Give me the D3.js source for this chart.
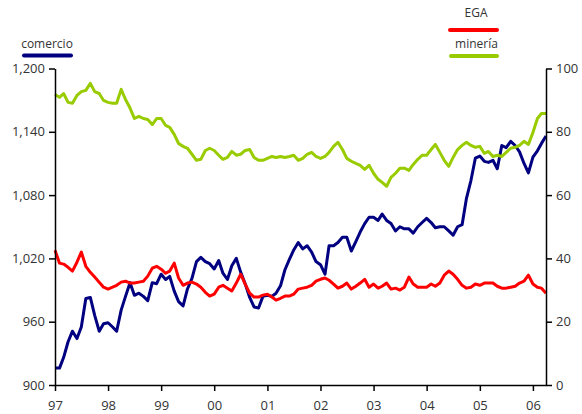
<!DOCTYPE html>
<html><head><meta charset="utf-8">
<script src="https://cdn.jsdelivr.net/npm/d3@7"></script>
<style>html,body{margin:0;padding:0;background:#fff;}svg{display:block;}</style>
</head><body><svg id="c" width="582" height="414"></svg>
<script>
const startMonth = "1997-01";
const yearLabels = ["97","98","99","00","01","02","03","04","05","06"];
const leftTicks = [900, 960, 1020, 1080, 1140, 1200];
const rightTicks = [0, 20, 40, 60, 80, 100];
const comercio = [916,916,926,941,951,944,955,982,983,966,951,958,959,955,951,971,984,997,985,987,984,980,997,996,
1005,1000,1003,989,979,975,991,1001,1017,1021,1017,1015,1010,1018,1006,1000,1013,1020,1007,996,983,974,973,984,
985,984,987,994,1009,1019,1028,1035,1029,1032,1026,1017,1014,1005,1032,1032,1035,1040,1040,1027,1036,1045,1053,1059,
1059,1056,1062,1056,1053,1046,1050,1048,1048,1044,1050,1054,1058,1054,1049,1050,1050,1046,1042,1050,1052,1077,1094,1115,
1117,1112,1111,1113,1105,1127,1125,1131,1127,1121,1110,1101,1116,1122,1129,1136];
const ega = [42.6,38.5,38.2,37.2,36,38.8,42,37.5,35.6,34.1,32.5,30.9,30.3,30.9,31.5,32.5,32.8,32.2,32.2,32.5,32.8,34.4,36.9,37.5,
36.6,35.3,36,38.5,33.8,31.5,32.2,32.5,31.9,30.9,29.3,28.1,28.7,30.9,31.5,30.6,29.7,32.2,35,31.9,29,27.8,27.8,28.4,
28.7,27.8,26.8,27.4,28.1,28.1,28.7,30.3,30.6,30.9,31.5,32.8,33.4,33.8,33.1,31.9,30.6,31.2,32.2,30.3,31.2,32.2,33.4,30.9,
31.9,30.6,31.2,32.2,30.3,30.6,30,30.9,34.1,31.9,30.9,30.9,30.9,31.9,31.2,32.2,34.7,36,35,33.4,31.5,30.6,30.9,31.9,
31.5,32.2,32.2,32.2,31.2,30.6,30.6,30.9,31.2,32.2,32.8,34.7,31.9,30.9,30.6,29];
const mineria = [91.8,90.9,92.1,89.3,89,91.5,92.7,93.1,95.3,92.7,92.1,89.9,89.3,89,89,93.4,90.2,87.5,84.2,84.9,84.2,83.9,82.3,84.2,
84.2,82,81.4,79.2,76.3,75.4,74.8,72.9,71,71.3,74.1,74.8,74.1,72.6,71.3,71.9,73.8,72.6,72.9,74.1,74.4,71.9,71,71,
71.6,72.2,71.9,72.2,71.9,72.2,72.6,71,71.6,72.9,73.5,72.2,71.6,72.2,73.5,75.4,76.7,74.4,71.6,70.7,70,69.4,68.1,69.4,
66.9,65,64,62.8,65.6,66.9,68.5,68.5,67.8,69.7,71.3,72.6,72.6,74.4,76,73.5,71,69.1,71.9,74.4,75.7,76.7,75.7,75.1,
75.4,73.2,73.8,72.2,72.6,72.2,73.5,74.8,75.1,75.7,77,76,79.8,84.2,85.8,85.8];
const seriesNames = ["comercio","EGA","minería"];
const seriesColors = ["#000080","#ff0000","#99cc00"];

const svg = d3.select("#c");
const start = d3.timeParse("%Y-%m")(startMonth);
const months = comercio.map((_, i) => d3.timeMonth.offset(start, i));
const L = 55, R = 546, T = 68.5, B = 385;
const x = d3.scaleTime().domain([months[0], months[months.length-1]]).range([L, R]);
const yL = d3.scaleLinear().domain([900, 1200]).range([B, T]);
const yR = d3.scaleLinear().domain([0, 100]).range([B, T]);

const font = "'Open Sans', 'Noto Sans', sans-serif";

function styleAxis(g){
  g.selectAll("path.domain").attr("stroke","#000").attr("stroke-width",1.5);
  g.selectAll(".tick line").attr("stroke","#000").attr("stroke-width",1.5);
  g.selectAll("text").attr("fill","#333").style("font-family",font).style("font-size","13px");
}

// Lines
const lineL = d3.line().x((d,i)=>x(months[i])).y(d=>yL(d));
const lineR = d3.line().x((d,i)=>x(months[i])).y(d=>yR(d));
const plots = [[comercio,lineL,seriesColors[0]],[ega,lineR,seriesColors[1]],[mineria,lineR,seriesColors[2]]];
plots.forEach(([data,gen,col])=>{
  svg.append("path").datum(data).attr("d",gen).attr("fill","none")
    .attr("stroke",col).attr("stroke-width",3).attr("stroke-linejoin","round");
});

// Axes
const yearTicks = d3.timeYear.range(months[0], d3.timeMonth.offset(months[months.length-1],1));
svg.append("g").attr("transform",`translate(0,${B})`)
  .call(d3.axisBottom(x).tickValues(yearTicks).tickFormat((d,i)=>yearLabels[i]).tickSize(6).tickPadding(10).tickSizeOuter(0))
  .call(styleAxis);
svg.append("g").attr("transform",`translate(${L},0)`)
  .call(d3.axisLeft(yL).tickValues(leftTicks).tickFormat(d3.format(",")).tickSize(6).tickPadding(4).tickSizeOuter(0))
  .call(styleAxis);
svg.append("g").attr("transform",`translate(${R},0)`)
  .call(d3.axisRight(yR).tickValues(rightTicks).tickSize(6).tickPadding(4).tickSizeOuter(0))
  .call(styleAxis);

// Legends
const leg = [
  {name:seriesNames[0], col:seriesColors[0], tx:47, ty:48, x1:24, x2:71, ly:55.5},
  {name:seriesNames[1], col:seriesColors[1], tx:476, ty:17, x1:450, x2:497, ly:30},
  {name:seriesNames[2], col:seriesColors[2], tx:476.5, ty:48, x1:451, x2:497, ly:56}
];
leg.forEach(l=>{
  svg.append("text").attr("x",l.tx).attr("y",l.ty).attr("text-anchor","middle")
    .attr("fill","#333").style("font-family",font).style("font-size","12px").text(l.name);
  svg.append("line").attr("x1",l.x1).attr("x2",l.x2).attr("y1",l.ly).attr("y2",l.ly)
    .attr("stroke",l.col).attr("stroke-width",4).attr("stroke-linecap","round");
});
</script></body></html>
